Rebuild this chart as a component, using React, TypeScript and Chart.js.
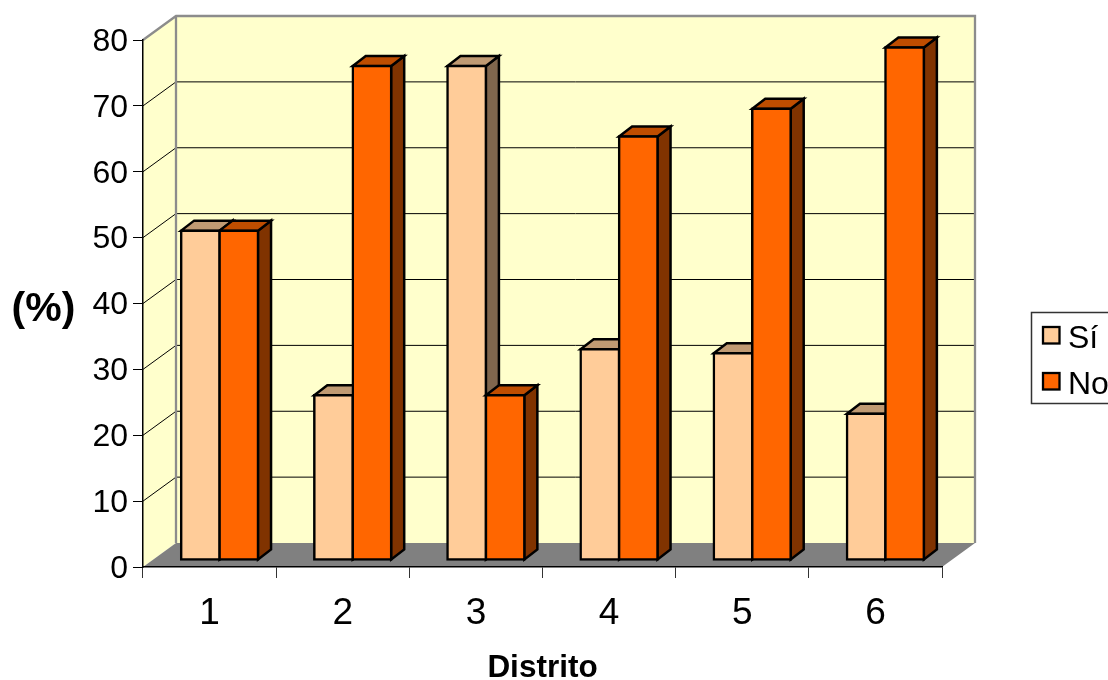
import React, { useEffect, useRef } from "react";
import { Chart, registerables } from "chart.js";

Chart.register(...registerables);

const categories = ["1", "2", "3", "4", "5", "6"];
const seriesNames = ["Sí", "No"];
const siValues = [50, 25, 75, 32, 31.4, 22.2];
const noValues = [50, 75, 25, 64.3, 68.5, 77.8];
const frontColors = ["#FFCC99", "#FF6600"];
const topColors = ["#C09A73", "#BF4D00"];
const sideColors = ["#80664D", "#803300"];
const wallColor = "#FFFFCC";
const floorColor = "#808080";
const edgeColor = "#8C8C8C";
const fontFamily = '"Liberation Sans", Arial, sans-serif';
const barLine = 2.5;

// Depth of the 3D box, and of a bar within it
const wallDepth = { x: 33, y: -24 };
const barShift = { x: 10, y: -7 };
const barDepth = { x: 13, y: -10 };

function poly(ctx: CanvasRenderingContext2D, pts: number[][]) {
  ctx.beginPath();
  pts.forEach(([x, y], i) => (i ? ctx.lineTo(x, y) : ctx.moveTo(x, y)));
  ctx.closePath();
}

function drawFaces(ctx: CanvasRenderingContext2D, meta: any, index: number) {
  ctx.strokeStyle = "#000";
  ctx.lineWidth = barLine;
  ctx.lineJoin = "miter";
  const ddx = barDepth.x, ddy = barDepth.y;
  meta.data.forEach((bar: any) => {
    const { x, y, base, width } = bar.getProps(["x", "y", "base", "width"], true);
    const l = x - width / 2, r = x + width / 2;
    ctx.fillStyle = sideColors[index];
    poly(ctx, [[r, y], [r + ddx, y + ddy], [r + ddx, base + ddy], [r, base]]);
    ctx.fill();
    ctx.stroke();
    ctx.fillStyle = topColors[index];
    poly(ctx, [[l, y], [l + ddx, y + ddy], [r + ddx, y + ddy], [r, y]]);
    ctx.fill();
    ctx.stroke();
  });
}

const scene3d = {
  id: "scene3d",
  afterLayout(chart: any) {
    const l = chart.legend;
    l.left = 1036;
    l.right = 1108;
    l.top = 309;
    l.bottom = 420;
  },
  beforeDraw(chart: any) {
    const { ctx, scales } = chart;
    const { x, y } = scales;
    const L = x.left, R = x.right, T = y.top, B = y.bottom;
    const dx = wallDepth.x, dy = wallDepth.y;
    ctx.save();
    ctx.fillStyle = wallColor;
    poly(ctx, [[L, T], [L + dx, T + dy], [L + dx, B + dy], [L, B]]);
    ctx.fill();
    ctx.fillRect(L + dx, T + dy, R - L, B - T);
    ctx.fillStyle = floorColor;
    poly(ctx, [[L, B], [L + dx, B + dy], [R + dx, B + dy], [R, B]]);
    ctx.fill();
    ctx.strokeStyle = "#000";
    ctx.lineWidth = 1;
    y.ticks.forEach((t: any) => {
      if (t.value === 0 || t.value === y.max) return;
      const py = y.getPixelForValue(t.value);
      ctx.beginPath();
      ctx.moveTo(L, py);
      ctx.lineTo(L + dx, py + dy);
      ctx.lineTo(R + dx, py + dy);
      ctx.stroke();
    });
    ctx.strokeStyle = edgeColor;
    ctx.lineWidth = 2.3;
    ctx.beginPath();
    ctx.moveTo(L, T);
    ctx.lineTo(L + dx, T + dy);
    ctx.lineTo(R + dx, T + dy);
    ctx.lineTo(R + dx, B + dy);
    ctx.moveTo(L + dx, T + dy);
    ctx.lineTo(L + dx, B + dy);
    ctx.stroke();
    ctx.strokeStyle = "#333";
    ctx.lineWidth = 1.5;
    ctx.strokeRect(1031.5, 312.5, 90, 91);
    ctx.fillStyle = "#000";
    ctx.font = `bold 41px ${fontFamily}`;
    ctx.textAlign = "center";
    ctx.textBaseline = "middle";
    ctx.fillText("(%)", 43.5, 310);
    ctx.restore();
  },
  beforeDatasetDraw(chart: any, args: any) {
    // "No" is drawn after "Sí" so it sits in front of it
    if (args.index === 1) return false;
    const { ctx } = chart;
    ctx.save();
    ctx.translate(barShift.x, barShift.y);
    drawFaces(ctx, args.meta, args.index);
  },
  afterDatasetDraw(chart: any, args: any) {
    const { ctx } = chart;
    ctx.restore();
    if (args.index === 0) {
      const meta = chart.getDatasetMeta(1);
      ctx.save();
      ctx.translate(barShift.x, barShift.y);
      drawFaces(ctx, meta, 1);
      meta.data.forEach((bar: any) => bar.draw(ctx));
      ctx.restore();
    }
  },
};

function swatch(color: string) {
  const c = document.createElement("canvas");
  c.width = 20;
  c.height = 28;
  const g = c.getContext("2d")!;
  g.fillStyle = color;
  g.fillRect(2, 2, 16.5, 16.5);
  g.strokeStyle = "#000";
  g.lineWidth = 2.3;
  g.strokeRect(2, 2, 16.5, 16.5);
  return c;
}

export default function App() {
  const ref = useRef<HTMLCanvasElement>(null);
  useEffect(() => {
    const chart = new Chart(ref.current!, {
      type: "bar",
      data: {
        labels: categories,
        datasets: [
          { label: seriesNames[0], data: siValues, backgroundColor: frontColors[0], pointStyle: swatch(frontColors[0]) },
          { label: seriesNames[1], data: noValues, backgroundColor: frontColors[1], pointStyle: swatch(frontColors[1]) },
        ].map((d) => ({
          ...d,
          borderColor: "#000",
          borderWidth: barLine,
          borderSkipped: false,
          inflateAmount: barLine / 2,
          categoryPercentage: 0.5775,
          barPercentage: 1,
          clip: false,
        })),
      },
      plugins: [scene3d],
      options: {
        responsive: false,
        animation: false,
        events: [],
        layout: { padding: { left: 0, top: 40, right: 166, bottom: 0 } },
        plugins: {
          title: { display: false },
          tooltip: { enabled: false },
          legend: {
            position: "chartArea",
            align: "start",
            labels: {
              color: "#000",
              font: { family: fontFamily, size: 32 },
              usePointStyle: true,
              pointStyleWidth: 2,
              padding: 14,
            },
          },
        },
        scales: {
          x: {
            afterFit: (s: any) => { s.height = 113; },
            grid: { drawOnChartArea: false, drawTicks: true, tickLength: 11, color: "#333", lineWidth: 1 },
            border: { display: true, color: "#000", width: 1.5 },
            ticks: { color: "#000", font: { family: fontFamily, size: 37 }, padding: 14, maxRotation: 0 },
            title: {
              display: true,
              text: "Distrito",
              color: "#000",
              font: { family: fontFamily, size: 31.5, weight: "bold" },
              padding: { top: 0, bottom: -7 },
            },
          },
          y: {
            min: 0,
            max: 80,
            afterFit: (s: any) => { s.width = 143; },
            grid: { drawOnChartArea: false, drawTicks: true, tickLength: 10, color: "#000", lineWidth: 1 },
            border: { display: true, color: "#000", width: 1.5 },
            ticks: { stepSize: 10, color: "#000", font: { family: fontFamily, size: 32 }, padding: 5, labelOffset: 2 },
          },
        },
      },
    } as any);
    return () => chart.destroy();
  }, []);
  return (
    <div style={{ position: "absolute", left: 0, top: 0, width: 1108, height: 680 }}>
      <canvas ref={ref} width={1108} height={680} style={{ display: "block" }} />
    </div>
  );
}
